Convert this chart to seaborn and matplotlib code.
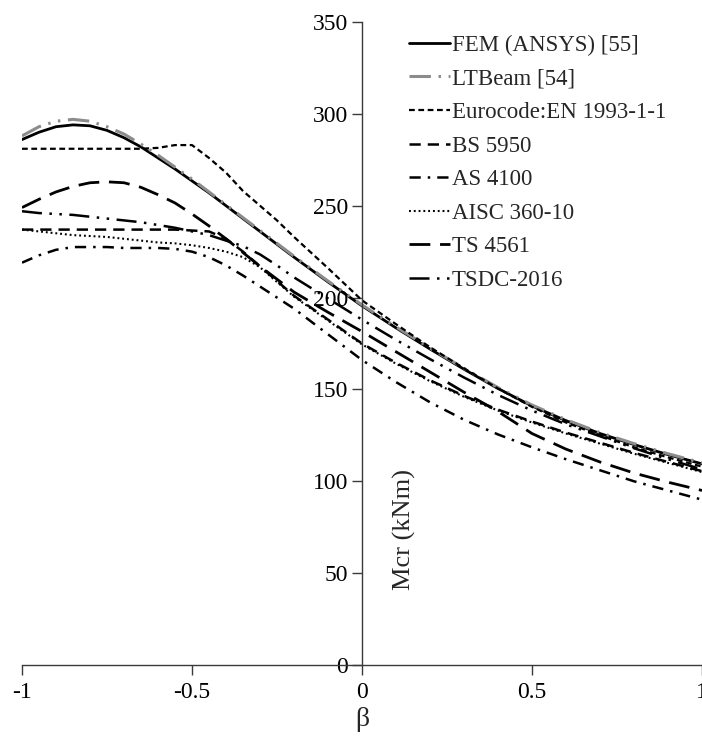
import numpy as np
import pandas as pd
import matplotlib
matplotlib.use("Agg")
import matplotlib.pyplot as plt
import seaborn as sns

beta = [-1.0, -0.95, -0.9, -0.85, -0.8, -0.75, -0.7, -0.65, -0.6, -0.55, -0.5,
        -0.45, -0.4, -0.35, -0.3, -0.25, -0.2, -0.1, 0.0, 0.1, 0.2, 0.3, 0.4,
        0.5, 0.6, 0.7, 0.8, 0.9, 1.0]

fem = [286, 290, 293, 294, 293.5, 291, 287, 282, 276, 270, 263.5,
       257, 250, 243, 236, 229, 222, 208.5, 195.5, 183.5, 172, 161, 150.5,
       141, 133, 126, 120, 114.5, 109.5]
ltbeam = [288, 293, 296, 297, 296, 293, 289, 283.5, 277.5, 271, 264.5,
          257.5, 250.5, 243.5, 236.5, 229.5, 222.5, 209, 196, 184, 172.5, 161.5, 151,
          141.5, 133.5, 126.5, 120.5, 115, 110]
eurocode = [281, 281, 281, 281, 281, 281, 281, 281, 281.5, 283, 283,
            276, 268, 258, 250, 242, 233, 216, 198.5, 185.5, 173, 161.5, 150.5,
            140.5, 132, 125, 118.5, 113, 108]
bs5950 = [237, 237, 237, 237, 237, 237, 237, 237, 237, 237, 236.5,
          236, 232, 225, 217, 209, 201, 188, 175, 164.5, 155, 146.5, 139,
          132.5, 126.5, 121, 115.5, 110.5, 105.5]
as4100 = [219, 223, 226, 227.5, 227.5, 227.5, 227, 227, 227, 226.5, 225,
          222, 217.5, 212, 206, 200, 194, 180, 166, 154, 143, 133.5, 125.5,
          118.5, 112, 106, 100, 95, 90]
aisc = [237, 236, 235, 234, 233.5, 233, 232, 231, 230, 229.5, 228.5,
        227, 225, 222, 216.5, 208.5, 200.5, 187.5, 174.5, 164, 154.5, 146, 138.5,
        132, 126, 120.5, 115, 110, 105]
ts4561 = [249, 253.5, 257.5, 260.5, 262.5, 263, 262.5, 260, 256, 251.5, 245.5,
          239, 232, 224.5, 217, 210, 203, 192, 181.5, 170.5, 159.5, 148.5, 138,
          126, 117.5, 110.5, 104.5, 99.5, 95]
tsdc = [247, 246, 245.5, 245, 244, 243, 242, 241, 239.5, 238, 236,
        234, 231, 228, 223.5, 217.5, 211, 199.5, 188, 177, 166.5, 156.5, 147,
        138.5, 131, 124.5, 118, 112, 106.5]

labels = ["FEM (ANSYS) [55]", "LTBeam [54]", "Eurocode:EN 1993-1-1", "BS 5950",
          "AS 4100", "AISC 360-10", "TS 4561", "TSDC-2016"]
series = [fem, ltbeam, eurocode, bs5950, as4100, aisc, ts4561, tsdc]

styles = [
    dict(color="black", lw=2.0, linestyle="-"),
    dict(color="#8c8c8c", lw=2.2, linestyle=(0, (7, 2.5, 0.8, 2.5, 0.8, 2.5))),
    dict(color="black", lw=1.6, linestyle=(0, (2.6, 1.6))),
    dict(color="black", lw=1.8, linestyle=(0, (4.5, 2.8))),
    dict(color="black", lw=1.8, linestyle=(0, (4.5, 2.8, 1, 2.8))),
    dict(color="black", lw=1.5, linestyle=(0, (0.9, 1.4))),
    dict(color="black", lw=2.0, linestyle=(0, (7.5, 3.5))),
    dict(color="black", lw=1.8, linestyle=(0, (8, 3, 1, 3, 1, 3))),
]

sns.set_theme(style="white")
plt.rcParams["font.family"] = ["Liberation Serif", "DejaVu Serif"]

fig = plt.figure(figsize=(7.02, 7.45), dpi=100)
ax = fig.add_axes([22 / 702, 80 / 745, 680 / 702, 643 / 745])

for lab, vals, st in zip(labels, series, styles):
    df = pd.DataFrame({"beta": beta, "M": vals})
    sns.lineplot(data=df, x="beta", y="M", ax=ax, label=lab, **st)

ax.set_xlim(-1, 1)
ax.set_ylim(0, 350)
ax.set_xticks([-1, -0.5, 0, 0.5, 1])
ax.set_xticklabels(["-1", "-0.5", "0", "0.5", "1"])
ax.set_yticks(np.arange(0, 351, 50))
ax.spines["left"].set_position(("data", 0))
for s in ["top", "right"]:
    ax.spines[s].set_visible(False)
for s in ["left", "bottom"]:
    ax.spines[s].set_color("#3a3a3a")
    ax.spines[s].set_linewidth(1.0)
ax.tick_params(axis="both", which="major", direction="out", length=7, width=1.0,
               color="#3a3a3a", labelsize=17, labelcolor="black")
ax.tick_params(axis="x", pad=5, bottom=True)
ax.tick_params(axis="y", pad=3, left=True)
ax.set_xlabel("")
ax.set_ylabel("")
ax.grid(False)

fig.text(362 / 702, 1 - 720 / 745, "β", ha="center", va="center", fontsize=20)
fig.text(404 / 702, 1 - 530 / 745, "Mcr (kNm)", ha="center", va="center",
         rotation=90, fontsize=19)

handles, labs = ax.get_legend_handles_labels()
leg = ax.legend(handles, labs, loc="upper left", bbox_to_anchor=(398 / 702, 1 - 23 / 745),
                bbox_transform=fig.transFigure, frameon=False, fontsize=16.5,
                handlelength=1.75, handletextpad=0.1, labelspacing=0.55, borderpad=0)

fig.savefig("out.png", dpi=100)
